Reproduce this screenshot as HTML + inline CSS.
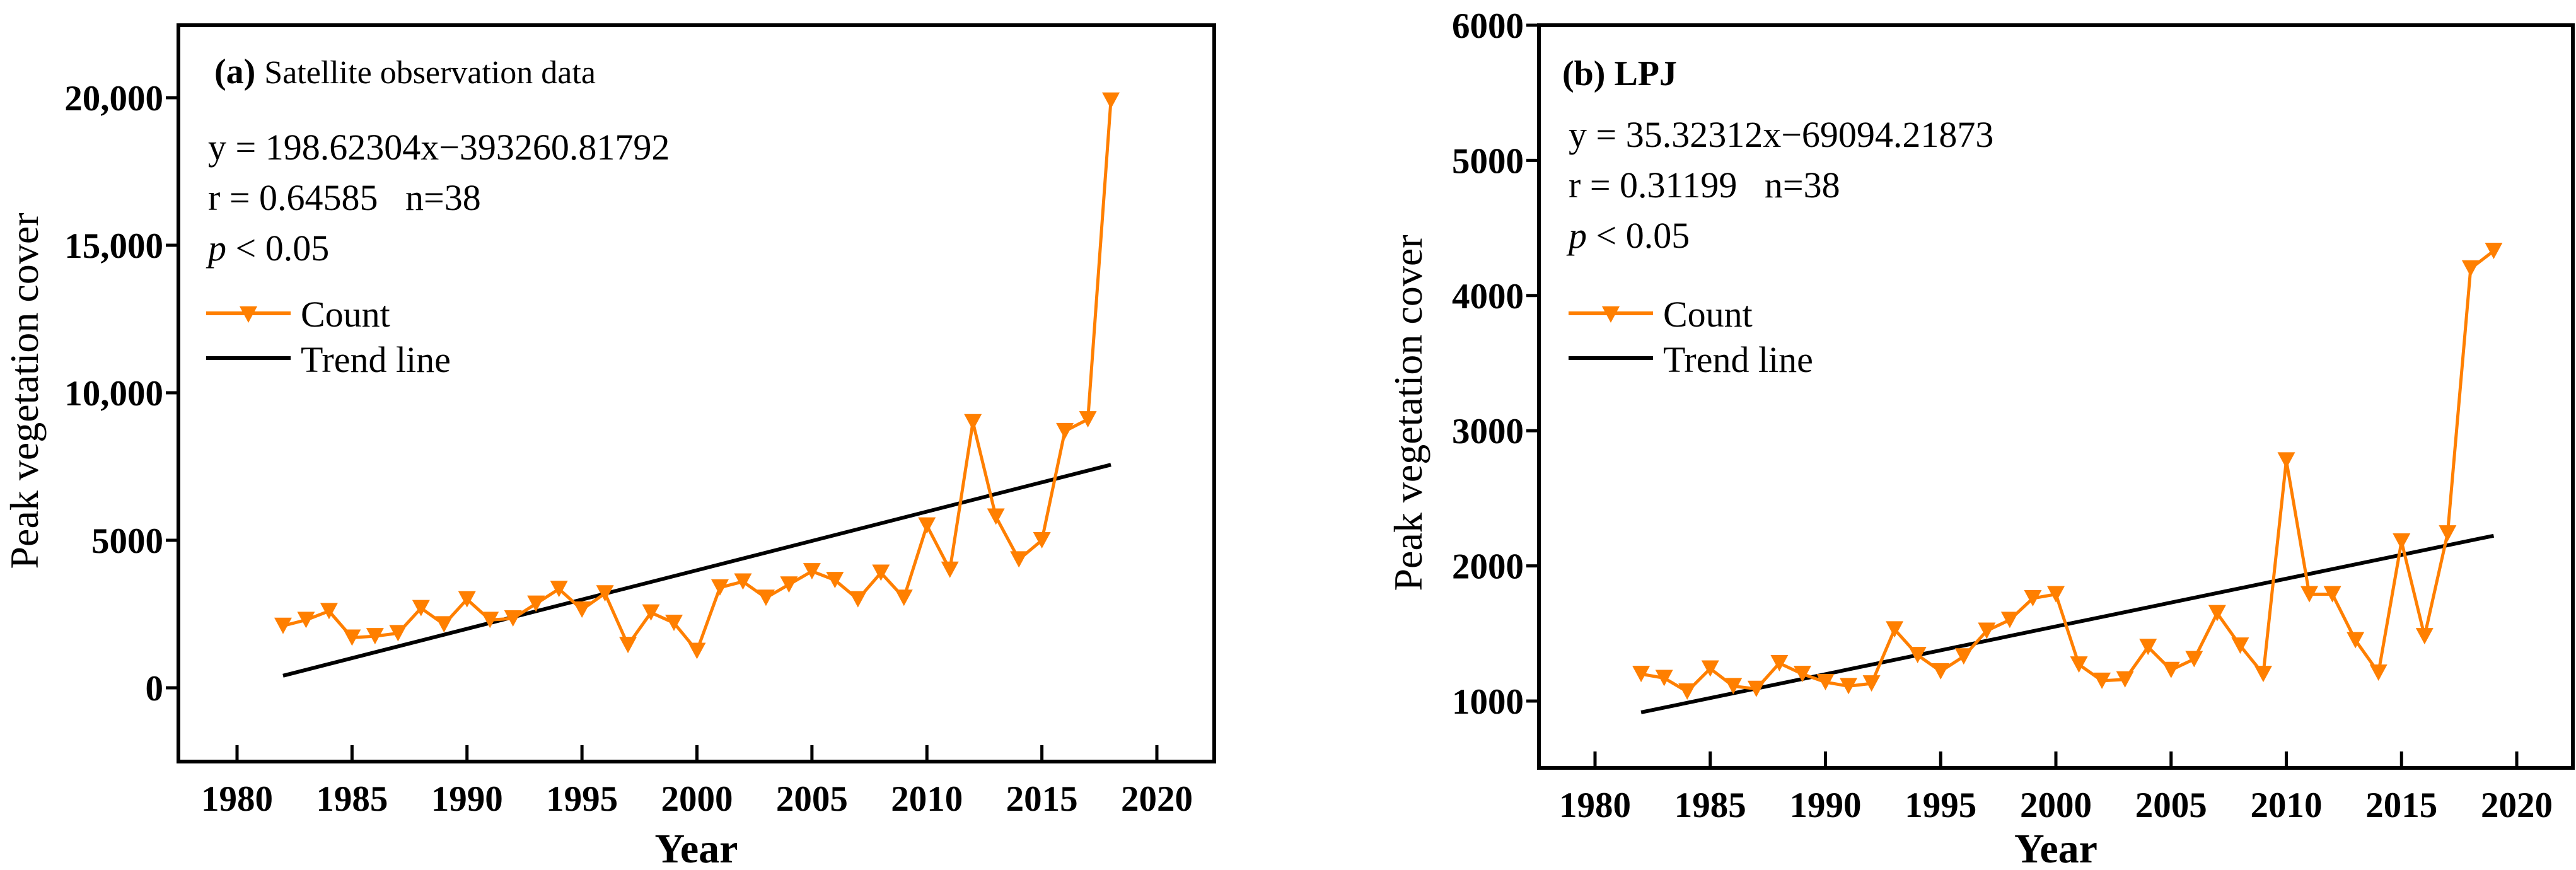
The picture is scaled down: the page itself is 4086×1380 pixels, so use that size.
<!DOCTYPE html>
<html><head><meta charset="utf-8">
<style>
html,body{margin:0;padding:0;background:#fff;}
svg{display:block;font-family:"Liberation Serif","Times New Roman",serif;}
svg text{font-family:"Liberation Serif","Times New Roman",serif;fill:#000;white-space:pre;}
</style></head>
<body>
<svg id="chart" width="4086" height="1380" viewBox="0 0 4086 1380" xmlns="http://www.w3.org/2000/svg" font-family="Liberation Serif, serif"></svg>
<script>
const yearsA = [1982,1983,1984,1985,1986,1987,1988,1989,1990,1991,1992,1993,1994,1995,1996,1997,1998,1999,2000,2001,2002,2003,2004,2005,2006,2007,2008,2009,2010,2011,2012,2013,2014,2015,2016,2017,2018];
const countA = [2100,2300,2600,1700,1750,1850,2700,2150,3000,2300,2350,2850,3350,2650,3200,1450,2550,2200,1250,3400,3600,3050,3500,3950,3650,3000,3900,3050,5500,4000,9000,5800,4350,5000,8700,9100,19900];
const trendA = [198.62304, -393260.81792];
const yTicksA = [0,5000,10000,15000,20000];
const yTickLabelsA = ["0","5000","10,000","15,000","20,000"];

const yearsB = [1982,1983,1984,1985,1986,1987,1988,1989,1990,1991,1992,1993,1994,1995,1996,1997,1998,1999,2000,2001,2002,2003,2004,2005,2006,2007,2008,2009,2010,2011,2012,2013,2014,2015,2016,2017,2018,2019];
const countB = [1200,1170,1070,1240,1110,1090,1280,1200,1140,1110,1130,1530,1340,1220,1330,1520,1600,1760,1790,1270,1150,1160,1400,1230,1310,1650,1410,1200,2780,1790,1790,1450,1210,2180,1480,2240,4200,4330];
const trendB = [35.32312, -69094.21873];
const yTicksB = [1000,2000,3000,4000,5000,6000];
const yTickLabelsB = ["1000","2000","3000","4000","5000","6000"];

const xTicks = [1980,1985,1990,1995,2000,2005,2010,2015,2020];

const NS = "http://www.w3.org/2000/svg";
const svg = document.getElementById("chart");
const FONT = "Liberation Serif, serif";
function mk(tag, attrs, parent){
  const e = document.createElementNS(NS, tag);
  for (const k in attrs) e.setAttribute(k, attrs[k]);
  if (tag === "text") e.setAttribute("font-family", FONT);
  (parent||svg).appendChild(e);
  return e;
}
const ORANGE = "#ff7f00";

function tri(g, x, y){
  return mk("polygon", {points:`${x-14},${y-13} ${x+14},${y-13} ${x},${y+13}`, fill:ORANGE}, g);
}

function panel(cfg){
  const g = mk("g", {});
  
  
  const {L,R,T,B,x0,x1,xp0,xp1,yv0,yp0,yv1,yp1} = cfg;
  const sx = v => xp0 + (v - x0) * (xp1 - xp0) / (x1 - x0);
  const sy = v => yp0 + (v - yv0) * (yp1 - yp0) / (yv1 - yv0);
  const fr = mk("rect", {x:L, y:T, width:R-L, height:B-T, fill:"none", stroke:"#000", "stroke-width":6}, g);
  
  
  xTicks.forEach(t => {
    const x = sx(t);
    const tk = mk("line", {x1:x, x2:x, y1:B, y2:B-26, stroke:"#000", "stroke-width":5}, g);
    
    
    const lb = mk("text", {x:x, y:B+78, "text-anchor":"middle", "font-size":57, "font-weight":"bold"}, g);
    lb.textContent = t;
    
    
  });
  cfg.yTicks.forEach((t, i) => {
    const y = sy(t);
    const tk = mk("line", {x1:L, x2:L-20, y1:y, y2:y, stroke:"#000", "stroke-width":5}, g);
    
    
    const lb = mk("text", {x:L-24, y:y+20, "text-anchor":"end", "font-size":57, "font-weight":"bold"}, g);
    lb.textContent = cfg.yLabels[i];
    
    
  });
  const xt = mk("text", {x:(L+R)/2, y:1368, "text-anchor":"middle", "font-size":66, "font-weight":"bold"}, g);
  xt.textContent = "Year";
  
  
  const yt = mk("text", {x:0, y:0, "text-anchor":"middle", "font-size":64, transform:`translate(${cfg.ytX},${cfg.ytY}) rotate(-90)`}, g);
  yt.textContent = "Peak vegetation cover";
  
  
  const ya = cfg.trend[0]*cfg.years[0] + cfg.trend[1];
  const yb = cfg.trend[0]*cfg.years[cfg.years.length-1] + cfg.trend[1];
  const tl = mk("line", {x1:sx(cfg.years[0]), y1:sy(ya), x2:sx(cfg.years[cfg.years.length-1]), y2:sy(yb), stroke:"#000", "stroke-width":6}, g);
  
  
  const pts = cfg.years.map((yr,i)=>`${sx(yr)},${sy(cfg.counts[i])}`).join(" ");
  const pl = mk("polyline", {points:pts, fill:"none", stroke:ORANGE, "stroke-width":5, "stroke-linejoin":"round"}, g);
  
  
  cfg.years.forEach((yr,i) => {
    const m = tri(g, sx(yr), sy(cfg.counts[i]));
    
    
  });
  const ax = cfg.annX;
  const tt = mk("text", {x:cfg.titleX, y:cfg.titleY, "font-size":56}, g);
  
  
  const b1 = mk("tspan", {"font-weight":"bold"}, tt); b1.textContent = cfg.titleBold;
  if (cfg.titleRest){ const b2 = mk("tspan", {"font-size":52}, tt); b2.textContent = cfg.titleRest; }
  const lines = [[cfg.eq, cfg.eqY, 'regression-equation'], [cfg.rtxt, cfg.eqY+80, 'correlation-text']];
  lines.forEach(([s,y,n]) => {
    const t = mk("text", {x:ax, y:y, "font-size":58}, g);
    t.textContent = s;
    
    
  });
  const pt = mk("text", {x:ax, y:cfg.eqY+160, "font-size":58}, g);
  
  
  const pi = mk("tspan", {"font-style":"italic"}, pt); pi.textContent = "p";
  const pr = mk("tspan", {}, pt); pr.textContent = " < 0.05";
  const lg = mk("g", {}, g);
  
  
  const ll = cfg.legX;
  mk("line", {x1:ll, x2:ll+134, y1:497, y2:497, stroke:ORANGE, "stroke-width":6}, lg);
  tri(lg, ll+67, 499);
  const lc = mk("text", {x:ll+150, y:518, "font-size":58}, lg); lc.textContent = "Count";
  
  
  mk("line", {x1:ll, x2:ll+134, y1:568, y2:568, stroke:"#000", "stroke-width":6}, lg);
  const lt = mk("text", {x:ll+150, y:590, "font-size":58}, lg); lt.textContent = "Trend line";
  
  
}

panel({name:'panel-a-satellite', L:283, R:1926, T:40, B:1208,
  x0:1980, x1:2020, xp0:376, xp1:1835, yv0:0, yp0:1091, yv1:20000, yp1:155,
  yTicks:yTicksA, yLabels:yTickLabelsA, years:yearsA, counts:countA, trend:trendA,
  ytX:60, ytY:620,
  titleX:340, titleY:132, titleBold:"(a) ", titleRest:"Satellite observation data",
  annX:330, eqY:253, eq:"y = 198.62304x\u2212393260.81792", rtxt:"r = 0.64585\u00a0\u00a0\u00a0n=38", legX:327});

panel({name:'panel-b-lpj', L:2441, R:4081, T:40, B:1218,
  x0:1980, x1:2020, xp0:2530, xp1:3992, yv0:1000, yp0:1112, yv1:6000, yp1:40,
  yTicks:yTicksB, yLabels:yTickLabelsB, years:yearsB, counts:countB, trend:trendB,
  ytX:2255, ytY:655,
  titleX:2478, titleY:135, titleBold:"(b) LPJ", titleRest:"",
  annX:2488, eqY:233, eq:"y = 35.32312x\u221269094.21873", rtxt:"r = 0.31199\u00a0\u00a0\u00a0n=38", legX:2488});
</script>
</body></html>
